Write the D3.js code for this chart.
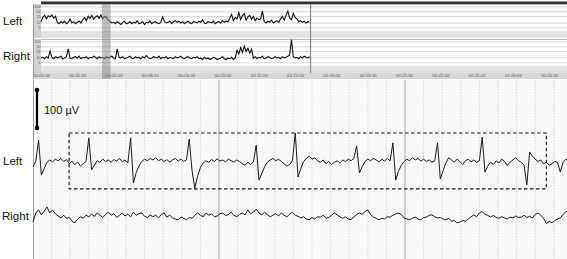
<!DOCTYPE html>
<html>
<head>
<meta charset="utf-8">
<script src="https://cdn.jsdelivr.net/npm/d3@7"></script>
<style>
  body { margin: 0; background: #fff; }
  svg { display: block; font-family: "Liberation Sans", Arial, sans-serif; }
</style>
</head>
<body>
<svg id="eeg" width="567" height="259"></svg>
<script>
// trend values, one sample every 0.1 min
var leftTrend = [12,22,30,18,28,24,32,20,26,
  11,9,12,10,13,9,11,18,10,12,9,11,13,10,
  16,22,14,26,19,30,17,24,28,20,32,18,26,22,15,12,
  10,11,9,12,10,8,11,13,9,10,12,9,11,10,14,9,10,12,8,11,10,13,9,11,12,10,9,11,24,12,10,11,13,9,12,14,11,13,
  10,12,9,11,13,10,9,12,11,10,13,11,16,10,9,12,11,10,13,9,11,12,10,14,11,13,12,
  20,35,14,22,18,45,16,28,38,15,24,30,17,26,14,20,16,18,55,
  12,10,13,11,15,10,12,14,11,
  18,26,15,30,55,20,16,40,22,18,
  12,14,11,13,10,12,11];
var rightTrend = [10,11,9,12,10, 27, 11,9,12,10,11,13,9,10,12, 37,
  10,9,11,12,10,13,9,11,10,12,9,11,10,13,11,9,12,10,11,9,12,10,11,13,10,9,
  37,
  11,10,12,9,10,11,13,10,9,12,10,11,9,12,10,14,11,9,10,12,11,10,13,9,11,10,12,9,11,10,
  9,12,10,11,13,10,9,11,12,10,9,11,10,12,9,10,8,11,9,10,8,9,11,10,8,9,10,12,9,8,10,9,11,8,10,
  30,18,45,22,55,26,40,20,35,
  10,12,9,11,10,13,9,10,12,11,9,10,12,10,11,9,12,10,11,13,15,
  140,
  12,10,11,9,12,10,13,11,10,12];
var trendTicks = [100, 50, 25, 10, 5];
var timeMinutes = [0,2,4,6,8,10,12,14,16,18,20,22,24,26,28];
var timeLabels = ["00:00:00","00:02:00","00:04:00","00:06:00","00:08:00","00:10:00","00:12:00",
  "00:14:00","00:16:00","00:18:00","00:20:00","00:22:00","00:24:00","00:26:00","00:28:00"];

// raw EEG in microvolts, one sample every 0.15 s
var leftEEG = [-10,5,60,-32,-15,2,8,3,10,6, 12,4,9,-2,5,-5,3,-8,-2,4,
  66,-18,-6,6,2,10,4,8,2,9, 5,12,3,8,0,66,-53,-25,-8,4,
  10,6,12,8,14,6,10,4,9,2, 8,12,5,10,4,8,63,-20,-66,-35,
  -12,0,6,2,9,4,11,5,8,3, 10,6,2,8,4,-2,-6,2,-4,3,
  47,-45,-28,-10,2,8,12,6,10,4, -2,-8,-4,6,79,-37,-15,4,12,18,
  10,14,6,2,8,-2,4,-4,2,6, 0,8,4,10,6,12,45,-26,-10,4,
  10,6,12,8,3,10,5,12,6,53, -45,-22,-6,4,10,6,14,8,12,5,
  10,4,8,2,6,53,-42,-20,0,14, 8,2,10,4,-4,6,10,3,8,2,
  6,68,-24,-8,2,-4,6,0,10,4, -6,2,8,14,6,2,-6,-58,29,18,
  10,4,8,-2,2,-6,-2,4,2,-24, 2,10,6];
var rightEEG = [-16,8,16,3,12,24,8,16,6,0, -5,2,-6,-4,-14,-18,-8,-2,-6,2,
  -2,5,-1,8,2,-4,4,10,2,6, -4,2,8,0,5,-2,10,2,6,8,
  -1,-4,3,-2,2,-5,4,8,-3,2, -5,-8,-10,-3,-6,-10,-4,-6,2,8,
  2,-2,8,2,6,-2,0,6,8,1, 4,10,2,-2,4,8,3,16,6,10,
  18,8,3,10,4,-2,2,6,0,8, 2,-2,5,10,2,-1,-5,-2,-8,-10,
  -4,-8,-2,-3,2,-6,-4,2,8,3, -2,-6,-2,-8,-10,-2,4,8,4,12,
  16,4,-3,-6,-10,-6,-8,-2,-3,2, 5,8,4,-5,-8,-10,-6,-3,-8,-10,
  -4,-3,2,3,-2,-5,-4,-8,-10,-6, -14,-12,-18,-16,-12,-14,-8,-2,3,-2,
  8,12,4,2,-3,2,-4,-6,-2,-5, -8,-3,-5,0,-4,-3,2,-4,-1,-5,
  4,8,2,-6,-20,-14,-18,-12,-8,-5, 4,12,10];

var trendStep = 0.1;   // min
var eegStep = 0.15;    // s
var windowStart = 3.36; // min, shown EEG page
var windowLen = 28.7;   // s
var boxTimes = [1.94, 27.6]; // s, dashed box
var boxLevels = [79, -68];   // uV around Left channel

var svg = d3.select("#eeg"),
  width = +svg.attr("width"),
  height = +svg.attr("height");

//// trend panels //
var trendX = d3.scaleLinear().domain([0, 29]).range([41, 41 + 29 * 18.15]);

var panels = [
  { name: "Left", data: leftTrend, y0: 4 },
  { name: "Right", data: rightTrend, y0: 39 }
];

svg.append("rect").attr("x", 41).attr("y", 1.5).attr("width", width - 41)
  .attr("height", 2.5).attr("fill", "#333");

panels.forEach(function (p) {
  var y = d3.scaleLog().domain([1.15, 154]).range([p.y0 + 34, p.y0]);
  var g = svg.append("g");
  g.append("rect").attr("x", 33).attr("y", p.y0).attr("width", width - 33)
    .attr("height", 34).attr("fill", "#fff");
  g.append("rect").attr("x", 33).attr("y", y(3.2)).attr("width", width - 33)
    .attr("height", p.y0 + 34 - y(3.2)).attr("fill", "#e3e3e3");
  g.selectAll("line.grid")
    .data(trendTicks)
    .enter()
    .append("line")
    .attr("x1", 41).attr("x2", width)
    .attr("y1", function (d) { return y(d); })
    .attr("y2", function (d) { return y(d); })
    .attr("stroke", "#cccccc")
    .attr("stroke-width", 0.8);
  g.append("line").attr("x1", 33).attr("x2", width)
    .attr("y1", p.y0 + 0.5).attr("y2", p.y0 + 0.5)
    .attr("stroke", "#aaa").attr("stroke-width", 0.8);
  g.append("rect").attr("x", 33).attr("y", p.y0).attr("width", 8)
    .attr("height", 34).attr("fill", "#d2d2d2");
  g.selectAll("text.tick")
    .data(trendTicks)
    .enter()
    .append("text")
    .attr("x", 40.5)
    .attr("y", function (d) { return y(d) + 1.3; })
    .attr("text-anchor", "end")
    .attr("font-size", 3.6)
    .attr("fill", "#555")
    .text(function (d) { return d; });
  g.append("path")
    .datum(p.data)
    .attr("fill", "none")
    .attr("stroke", "#111")
    .attr("stroke-width", 1.1)
    .attr("d", d3.line()
      .x(function (d, i) { return trendX(i * trendStep); })
      .y(function (d) { return y(d); }));
  svg.append("text")
    .attr("x", 3)
    .attr("y", p.y0 + (p.name == "Left" ? 20.5 : 21))
    .attr("font-size", 11.5)
    .attr("fill", "#111")
    .text(p.name);
});

// end of recording marker
var endX = trendX((leftTrend.length - 1) * trendStep) + 1;
svg.append("line").attr("x1", endX).attr("x2", endX).attr("y1", 4).attr("y2", 73)
  .attr("stroke", "#777").attr("stroke-width", 1);

// time axis band
svg.append("rect").attr("x", 33).attr("y", 73).attr("width", width - 33)
  .attr("height", 6).attr("fill", "#d8d8d8");
var axis = d3.axisBottom(trendX)
  .tickValues(timeMinutes)
  .tickSize(1.2)
  .tickPadding(0.5)
  .tickFormat(function (d, i) { return timeLabels[i]; });
var ax = svg.append("g").attr("transform", "translate(0,73)").call(axis);
ax.select(".domain").remove();
ax.selectAll("line").attr("stroke", "#777").attr("stroke-width", 0.5);
ax.selectAll("text").attr("font-size", 3.8).attr("fill", "#555")
  .attr("font-family", "DejaVu Sans, sans-serif");

// page window highlight
svg.append("rect")
  .attr("x", trendX(windowStart))
  .attr("y", 4)
  .attr("width", trendX(windowStart + windowLen / 60) - trendX(windowStart))
  .attr("height", 75)
  .attr("fill", "#8a8a8a")
  .attr("opacity", 0.55);

svg.append("line").attr("x1", 33.5).attr("x2", 33.5).attr("y1", 4).attr("y2", 79)
  .attr("stroke", "#999");

//// EEG page //
var x = d3.scaleLinear().domain([0, 28.71]).range([33, 567]);
var yLeft = d3.scaleLinear().domain([-100, 100]).range([163 + 38, 163 - 38]);
var yRight = d3.scaleLinear().domain([-100, 100]).range([216 + 38, 216 - 38]);

svg.append("rect").attr("x", 33).attr("y", 80).attr("width", width - 33)
  .attr("height", height - 80).attr("fill", "#f8f8f8");

var seconds = d3.range(1, 29);
svg.append("g")
  .selectAll("line")
  .data(seconds)
  .enter()
  .append("line")
  .attr("x1", function (d) { return x(d); })
  .attr("x2", function (d) { return x(d); })
  .attr("y1", 80).attr("y2", height)
  .attr("stroke", function (d) { return d % 10 == 0 ? "#a8a8a8" : "#cfcfcf"; })
  .attr("stroke-width", function (d) { return d % 10 == 0 ? 1 : 0.8; })
  .attr("stroke-dasharray", function (d) { return d % 10 == 0 ? null : "1.5,1.5"; });

svg.append("line").attr("x1", 33.5).attr("x2", 33.5).attr("y1", 80).attr("y2", height)
  .attr("stroke", "#a0a0a0").attr("stroke-width", 1);

// scale bar
var bar = d3.scaleLinear().domain([0, 100]).range([128, 90]);
svg.append("line").attr("x1", 37).attr("x2", 37).attr("y1", bar(0)).attr("y2", bar(100))
  .attr("stroke", "#000").attr("stroke-width", 2.2);
svg.selectAll("circle.end")
  .data([0, 100])
  .enter()
  .append("circle")
  .attr("cx", 37)
  .attr("cy", function (d) { return bar(d); })
  .attr("r", 2.3)
  .attr("fill", "#000");
svg.append("text").attr("x", 44).attr("y", 114).attr("font-size", 11)
  .attr("fill", "#111").text("100 \u00b5V");

var channels = [
  { name: "Left", data: leftEEG, y: yLeft, ly: 165 },
  { name: "Right", data: rightEEG, y: yRight, ly: 220 }
];
channels.forEach(function (c) {
  svg.append("path")
    .datum(c.data)
    .attr("fill", "none")
    .attr("stroke", "#1a1a1a")
    .attr("stroke-width", 1)
    .attr("stroke-linejoin", "round")
    .attr("d", d3.line()
      .x(function (d, i) { return x(i * eegStep); })
      .y(function (d) { return c.y(d); }));
  svg.append("text").attr("x", c.name == "Left" ? 3 : 2).attr("y", c.ly)
    .attr("font-size", 11.5).attr("fill", "#111").text(c.name);
});

// dashed box around the spikes
svg.append("rect")
  .attr("x", x(boxTimes[0]))
  .attr("y", yLeft(boxLevels[0]))
  .attr("width", x(boxTimes[1]) - x(boxTimes[0]))
  .attr("height", yLeft(boxLevels[1]) - yLeft(boxLevels[0]))
  .attr("fill", "none")
  .attr("stroke", "#111")
  .attr("stroke-width", 1.1)
  .attr("stroke-dasharray", "3.5,2.5");
</script>
</body>
</html>
